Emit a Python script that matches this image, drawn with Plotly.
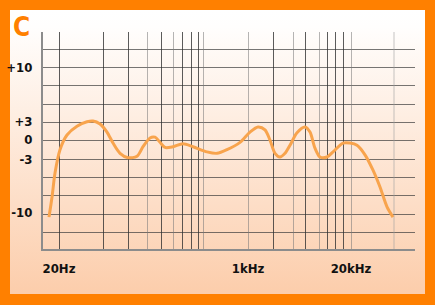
import plotly.graph_objects as go
import base64

# ---- data (x in nominal axis units, y in dB) ----
curve_x = [6, 9, 12, 17, 24, 34, 44, 50, 57, 64, 70, 77, 85, 94, 100, 107, 112, 117, 122,
           130, 140, 150, 164, 174, 184, 197, 207, 215, 222, 227, 232, 237, 242, 247, 254,
           262, 267, 272, 277, 284, 290, 300, 307, 314, 322, 330, 337, 344, 350]
curve_y = [-10.4, -7.7, -4.4, -1.2, 0.8, 2.0, 2.6, 2.7, 2.3, 1.2, -0.3, -1.7, -2.3, -2.1,
           -0.8, 0.4, 0.5, -0.2, -0.9, -0.8, -0.4, -0.8, -1.5, -1.7, -1.2, -0.2, 1.2, 1.9,
           1.5, 0.1, -1.7, -2.2, -1.7, -0.6, 1.1, 1.9, 1.2, -1.0, -2.2, -2.2, -1.5, -0.3,
           -0.3, -0.6, -1.9, -4.0, -6.3, -9.0, -10.4]

grid_dark = [16, 60, 85, 118, 139, 148, 155, 230, 262, 284, 292, 300]
grid_light = [104, 130, 160, 205, 250, 276, 308]
grid_faint = [351]

x_tick_vals = [16, 205, 308]
x_tick_text = ["20Hz", "1kHz", "20kHz"]

y_tick_vals = [10, 2.6, 0.2, -2.6, -9.8]
y_tick_text = ["+10", "+3", "0", "-3", "-10"]

X_RANGE = [0, 372]
Y_RANGE = [-14.75, 14.85]

ORANGE = "#ff8000"
CURVE = "#f8a44d"
FONT = "Liberation Sans Narrow, DejaVu Sans Condensed, Roboto, sans-serif"

svg = ('<svg xmlns="http://www.w3.org/2000/svg" width="100" height="100" '
       'preserveAspectRatio="none"><defs><linearGradient id="g" x1="0" y1="0" x2="0" y2="1">'
       '<stop offset="0" stop-color="#ffffff"/><stop offset="0.06" stop-color="#fffefd"/>'
       '<stop offset="1" stop-color="#fccdab"/></linearGradient></defs>'
       '<rect width="100" height="100" fill="url(#g)"/></svg>')
svg_uri = "data:image/svg+xml;base64," + base64.b64encode(svg.encode()).decode()

W, H = 435, 305
xdom = [43 / W, 415 / W]
ydom = [(H - 249) / H, (H - 32) / H]

fig = go.Figure()

# dummy traces to instantiate overlay grid axes
for xa, ya in [("x2", "y"), ("x3", "y"), ("x4", "y"), ("x", "y2")]:
    fig.add_trace(go.Scatter(x=[None], y=[None], xaxis=xa, yaxis=ya,
                             showlegend=False, hoverinfo="skip"))

fig.add_trace(go.Scatter(x=curve_x, y=curve_y, mode="lines",
                         line=dict(color=CURVE, width=3, shape="spline", smoothing=0.8),
                         showlegend=False, hoverinfo="skip"))

common_x = dict(range=X_RANGE, domain=xdom, zeroline=False, ticks="", fixedrange=True)
common_y = dict(range=Y_RANGE, domain=ydom, zeroline=False, ticks="", fixedrange=True)

fig.update_layout(
    width=W, height=H,
    margin=dict(l=0, r=0, t=0, b=0),
    paper_bgcolor=ORANGE,
    plot_bgcolor="rgba(0,0,0,0)",
    xaxis=dict(**common_x, tickvals=x_tick_vals, ticktext=x_tick_text, showgrid=False,
               showline=True, linecolor="#8c8c8c", linewidth=2, ticklabelstandoff=6,
               tickfont=dict(family=FONT, size=13, color="#111111", weight="bold")),
    xaxis2=dict(**common_x, overlaying="x", anchor="y", tickvals=grid_dark, showticklabels=False,
                showgrid=True, gridcolor="rgba(50,50,50,0.8)", gridwidth=1),
    xaxis3=dict(**common_x, overlaying="x", anchor="y", tickvals=grid_light, showticklabels=False,
                showgrid=True, gridcolor="rgba(120,120,120,0.55)", gridwidth=1),
    xaxis4=dict(**common_x, overlaying="x", anchor="y", tickvals=grid_faint, showticklabels=False,
                showgrid=True, gridcolor="rgba(160,160,160,0.3)", gridwidth=1.5),
    yaxis=dict(**common_y, tickvals=y_tick_vals, ticktext=y_tick_text, showgrid=False,
               showline=True, linecolor="#8c8c8c", linewidth=2, ticklabelstandoff=6,
               tickfont=dict(family=FONT, size=13, color="#111111", weight="bold")),
    yaxis2=dict(**common_y, overlaying="y", anchor="x", tick0=0, dtick=2.5, showticklabels=False,
                showgrid=True, gridcolor="rgba(60,60,60,0.7)", gridwidth=1),
    images=[dict(source=svg_uri, xref="paper", yref="paper", x=10 / W, y=1 - 10 / H,
                 sizex=415 / W, sizey=284 / H, sizing="stretch", xanchor="left",
                 yanchor="top", layer="below")],
    annotations=[dict(text="<b>C</b>", xref="paper", yref="paper", x=21 / W, y=1 - 27 / H,
                      xanchor="center", yanchor="middle", showarrow=False,
                      font=dict(family=FONT, size=26, color=ORANGE))],
)

fig.write_html("out.html")
